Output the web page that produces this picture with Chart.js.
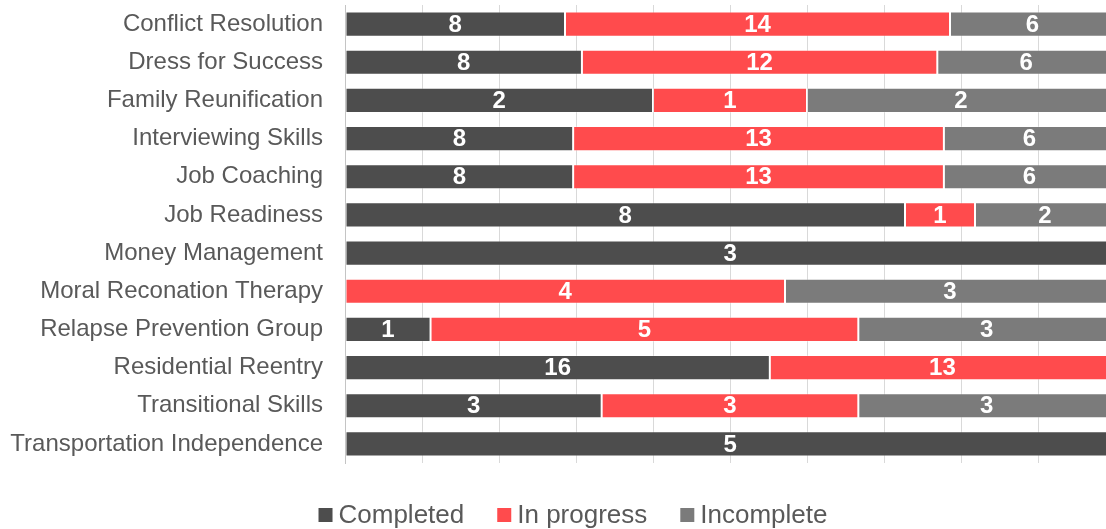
<!DOCTYPE html>
<html>
<head>
<meta charset="utf-8">
<title>Program progress</title>
<script src="https://cdn.jsdelivr.net/npm/chart.js@4.4.0/dist/chart.umd.min.js"></script>
<style>
  html, body { margin: 0; padding: 0; background: #fff; overflow: hidden; }
  #wrap { width: 1106px; height: 529px; overflow: hidden; position: relative; }
  #progressChart { position: absolute; left: 0; top: 0; }
</style>
</head>
<body>
<div id="wrap">
  <canvas id="progressChart" width="1116" height="529"></canvas>
</div>
<script>
/* ===========================
   Program progress — 100% stacked bars
   =========================== */

const PROGRAMS = [
  'Conflict Resolution', 'Dress for Success', 'Family Reunification',
  'Interviewing Skills', 'Job Coaching', 'Job Readiness', 'Money Management',
  'Moral Reconation Therapy', 'Relapse Prevention Group', 'Residential Reentry',
  'Transitional Skills', 'Transportation Independence',
];

const SERIES_NAMES = ['Completed', 'In progress', 'Incomplete'];

const COMPLETED   = [8, 8, 2, 8, 8, 8, 3, 0, 1, 16, 3, 5];
const IN_PROGRESS = [14, 12, 1, 13, 13, 1, 0, 4, 5, 13, 3, 0];
const INCOMPLETE  = [6, 6, 2, 6, 6, 2, 0, 3, 3, 0, 3, 0];

const X_TICKS = [0, 10, 20, 30, 40, 50, 60, 70, 80, 90, 100];

const COLORS = {
  completed: '#4d4d4d',
  inProgress: '#ff4b4d',
  incomplete: '#7b7b7b',
  text: '#595959',
  grid: 'rgba(0, 0, 0, 0.15)',
  axis: '#c4c4c4',
};

const FONT = "'Liberation Sans', Arial, sans-serif";

const totals = PROGRAMS.map((_, i) => COMPLETED[i] + IN_PROGRESS[i] + INCOMPLETE[i]);
const toPct = arr => arr.map((v, i) => v / totals[i] * 100);

const counts = [COMPLETED, IN_PROGRESS, INCOMPLETE];
const seriesColors = [COLORS.completed, COLORS.inProgress, COLORS.incomplete];

// labels drawn after the grid layer so they stay on top
const segmentLabels = {
  id: 'segmentLabels',
  afterDraw(chart) {
    const ctx = chart.ctx;
    ctx.save();
    ctx.font = 'bold 24px ' + FONT;
    ctx.fillStyle = '#ffffff';
    ctx.textAlign = 'center';
    ctx.textBaseline = 'middle';
    chart.data.datasets.forEach((ds, di) => {
      const meta = chart.getDatasetMeta(di);
      meta.data.forEach((bar, i) => {
        const n = counts[di][i];
        if (!n) return;
        ctx.fillText(String(n), (bar.x + bar.base) / 2, bar.y + 1);
      });
    });
    ctx.restore();
  }
};

const bottomLegend = {
  id: 'bottomLegend',
  afterDraw(chart) {
    const ctx = chart.ctx;
    const box = 14, gapText = 6, gapItem = 33, cy = 515, cx = 573;
    ctx.save();
    ctx.font = '26px ' + FONT;
    const widths = SERIES_NAMES.map(s => ctx.measureText(s).width);
    const total = widths.reduce((a, w) => a + box + gapText + w, 0) + gapItem * (SERIES_NAMES.length - 1);
    let x = cx - total / 2;
    ctx.textBaseline = 'middle';
    ctx.textAlign = 'left';
    SERIES_NAMES.forEach((name, i) => {
      ctx.fillStyle = seriesColors[i];
      ctx.fillRect(x, cy - box / 2, box, box);
      x += box + gapText;
      ctx.fillStyle = COLORS.text;
      ctx.fillText(name, x, cy + 1);
      x += widths[i] + gapItem;
    });
    ctx.restore();
  }
};

function renderProgressChart() {
  const ctx = document.getElementById('progressChart').getContext('2d');
  new Chart(ctx, {
    type: 'bar',
    data: {
      labels: PROGRAMS,
      datasets: SERIES_NAMES.map((name, i) => ({
        label: name,
        data: toPct(counts[i]),
        backgroundColor: seriesColors[i],
        borderColor: 'rgba(255, 255, 255, 0.25)',
        borderWidth: 1,
        borderSkipped: false,
        categoryPercentage: 1,
        barPercentage: 0.66,
      }))
    },
    options: {
      indexAxis: 'y',
      responsive: false,
      animation: false,
      devicePixelRatio: 1,
      layout: { padding: { left: 10, right: 1, top: 5, bottom: 0 } },
      plugins: {
        legend: { display: false },
        tooltip: { enabled: false },
      },
      scales: {
        x: {
          stacked: true,
          min: 0,
          max: 100,
          z: 1,
          afterBuildTicks: scale => { scale.ticks = X_TICKS.map(v => ({ value: v })); },
          afterFit: scale => { scale.height = 66; },
          ticks: { display: false },
          grid: { color: COLORS.grid, drawTicks: false, lineWidth: 1 },
          border: { display: false },
        },
        y: {
          stacked: true,
          afterFit: scale => {
            scale.width = 335;
            scale.paddingTop = 0;
            scale.paddingBottom = 0;
          },
          ticks: {
            padding: 22,
            color: COLORS.text,
            font: { family: FONT, size: 24 },
          },
          grid: { display: false, drawTicks: false },
          border: { display: true, color: COLORS.axis, width: 1 },
        }
      }
    },
    plugins: [segmentLabels, bottomLegend]
  });
}

renderProgressChart();
</script>
</body>
</html>
